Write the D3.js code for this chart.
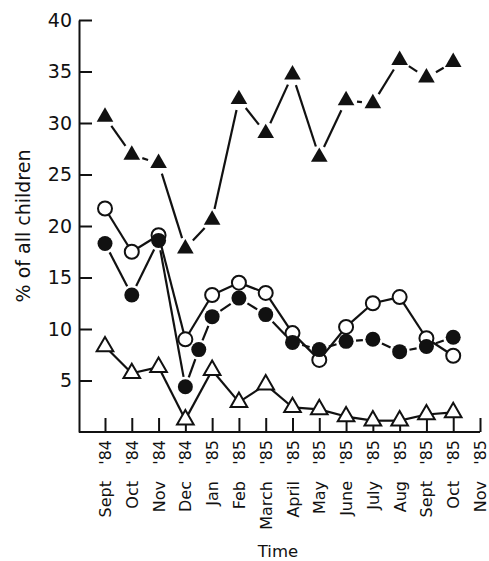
<!DOCTYPE html>
<html>
<head>
<meta charset="utf-8">
<script src="https://cdn.jsdelivr.net/npm/d3@7"></script>
<style>
  body { margin: 0; background: #fff; }
  text { font-family: "DejaVu Sans", sans-serif; fill: #111; }
</style>
</head>
<body>
<div id="vis_canvas"></div>
<script>
// month labels (x axis), two parts each
var monthNames = ["Sept", "Oct", "Nov", "Dec", "Jan", "Feb", "March", "April", "May", "June", "July", "Aug", "Sept", "Oct", "Nov"];
var monthYears = ["'84", "'84", "'84", "'84", "'85", "'85", "'85", "'85", "'85", "'85", "'85", "'85", "'85", "'85", "'85"];
var yTicks = [5, 10, 15, 20, 25, 30, 35, 40];

// index of month for the plotted points (Sept '84 = 0)
var monthX = [0, 1, 2, 3, 4, 5, 6, 7, 8, 9, 10, 11, 12, 13];
// filled circles have one extra point between Dec and Jan
var filledCircX = [0, 1, 2, 3, 3.5, 4, 5, 6, 7, 8, 9, 10, 11, 12, 13];

var filledTriVals  = [30.6, 26.9, 26.1, 17.8, 20.6, 32.3, 29.0, 34.7, 26.7, 32.2, 31.9, 36.1, 34.4, 35.9];
var openCircVals   = [21.7, 17.5, 19.1, 9.0, 13.3, 14.5, 13.5, 9.6, 7.0, 10.2, 12.5, 13.1, 9.1, 7.4];
var filledCircVals = [18.3, 13.3, 18.6, 4.4, 8.0, 11.2, 13.0, 11.4, 8.7, 8.0, 8.8, 9.0, 7.8, 8.3, 9.2];
var openTriVals    = [8.3, 5.7, 6.3, 1.2, 6.0, 2.9, 4.6, 2.4, 2.2, 1.5, 1.1, 1.1, 1.7, 1.9];

var W = 489, H = 561;
var m = { left: 79, bottom: 432, top: 20 };

var svg = d3.select("#vis_canvas").append("svg")
  .attr("width", W).attr("height", H);

var x = d3.scaleLinear().domain([0, 14]).range([105, 480]);
var y = d3.scaleLinear().domain([0, 40]).range([m.bottom, m.top]);

// y axis, ticks pointing inward
var yAxis = svg.append("g")
  .attr("transform", "translate(" + m.left + ",0)")
  .call(d3.axisLeft(y).tickValues(yTicks).tickSize(-13).tickSizeOuter(0).tickPadding(7));
yAxis.select(".domain").attr("stroke", "#111").attr("stroke-width", 2);
yAxis.selectAll(".tick line").attr("stroke", "#111").attr("stroke-width", 2);
yAxis.selectAll(".tick text")
  .style("font-size", "19px").style("font-family", "DejaVu Sans, sans-serif").attr("fill", "#111");

// x axis, ticks pointing up
var xAxis = svg.append("g")
  .attr("transform", "translate(0," + m.bottom + ")")
  .call(d3.axisBottom(x).tickValues(d3.range(15)).tickSize(-14).tickSizeOuter(0).tickFormat(""));
xAxis.select(".domain").remove();
xAxis.selectAll(".tick line").attr("stroke", "#111").attr("stroke-width", 2);
svg.append("line")
  .attr("x1", m.left).attr("x2", x(14))
  .attr("y1", m.bottom).attr("y2", m.bottom)
  .attr("stroke", "#111").attr("stroke-width", 2);

// rotated month labels
var labs = svg.selectAll(".xlab").data(d3.range(15)).enter().append("g")
  .attr("class", "xlab")
  .attr("transform", function(i) { return "translate(" + (x(i) + 6) + ",0) rotate(-90)"; });
labs.append("text")
  .attr("x", -440).attr("text-anchor", "end")
  .style("font-size", "16px")
  .text(function(i) { return monthYears[i]; });
labs.append("text")
  .attr("x", -481).attr("text-anchor", "end")
  .style("font-size", "16px")
  .text(function(i) { return monthNames[i]; });

svg.append("text")
  .attr("x", 278).attr("y", 557).attr("text-anchor", "middle")
  .style("font-size", "16.5px").text("Time");

svg.append("text")
  .attr("transform", "translate(30,226) rotate(-90)")
  .attr("text-anchor", "middle")
  .style("font-size", "19px").text("% of all children");

// series
function pts(xs, vs) {
  return vs.map(function(v, i) { return [x(xs[i]), y(v)]; });
}
function drawLine(p, gap) {
  var segs = [];
  for (var i = 0; i < p.length - 1; i++) {
    var a = p[i], b = p[i + 1];
    var dx = b[0] - a[0], dy = b[1] - a[1], L = Math.sqrt(dx * dx + dy * dy);
    if (L <= 2 * gap) continue;
    var ux = dx / L, uy = dy / L;
    segs.push([a[0] + ux * gap, a[1] + uy * gap, b[0] - ux * gap, b[1] - uy * gap]);
  }
  svg.append("g").selectAll("line").data(segs).enter().append("line")
    .attr("x1", function(d) { return d[0]; }).attr("y1", function(d) { return d[1]; })
    .attr("x2", function(d) { return d[2]; }).attr("y2", function(d) { return d[3]; })
    .attr("stroke", "#111").attr("stroke-width", 2.2);
}
var tri = d3.symbol().type(d3.symbolTriangle).size(120);

var pOT = pts(monthX, openTriVals);
var pOC = pts(monthX, openCircVals);
var pFC = pts(filledCircX, filledCircVals);
var pFT = pts(monthX, filledTriVals);

drawLine(pOT, 0);
drawLine(pOC, 0);
drawLine(pFC, 10);
drawLine(pFT, 11);

svg.append("g").selectAll("path").data(pOT).enter().append("path")
  .attr("d", tri).attr("transform", function(d) { return "translate(" + d[0] + "," + d[1] + ")"; })
  .attr("fill", "#fff").attr("stroke", "#111").attr("stroke-width", 2);
svg.append("g").selectAll("circle").data(pOC).enter().append("circle")
  .attr("cx", function(d) { return d[0]; }).attr("cy", function(d) { return d[1]; })
  .attr("r", 7).attr("fill", "#fff").attr("stroke", "#111").attr("stroke-width", 2);
svg.append("g").selectAll("circle").data(pFC).enter().append("circle")
  .attr("cx", function(d) { return d[0]; }).attr("cy", function(d) { return d[1]; })
  .attr("r", 7.5).attr("fill", "#111");
svg.append("g").selectAll("path").data(pFT).enter().append("path")
  .attr("d", tri).attr("transform", function(d) { return "translate(" + d[0] + "," + d[1] + ")"; })
  .attr("fill", "#111");
</script>
</body>
</html>
